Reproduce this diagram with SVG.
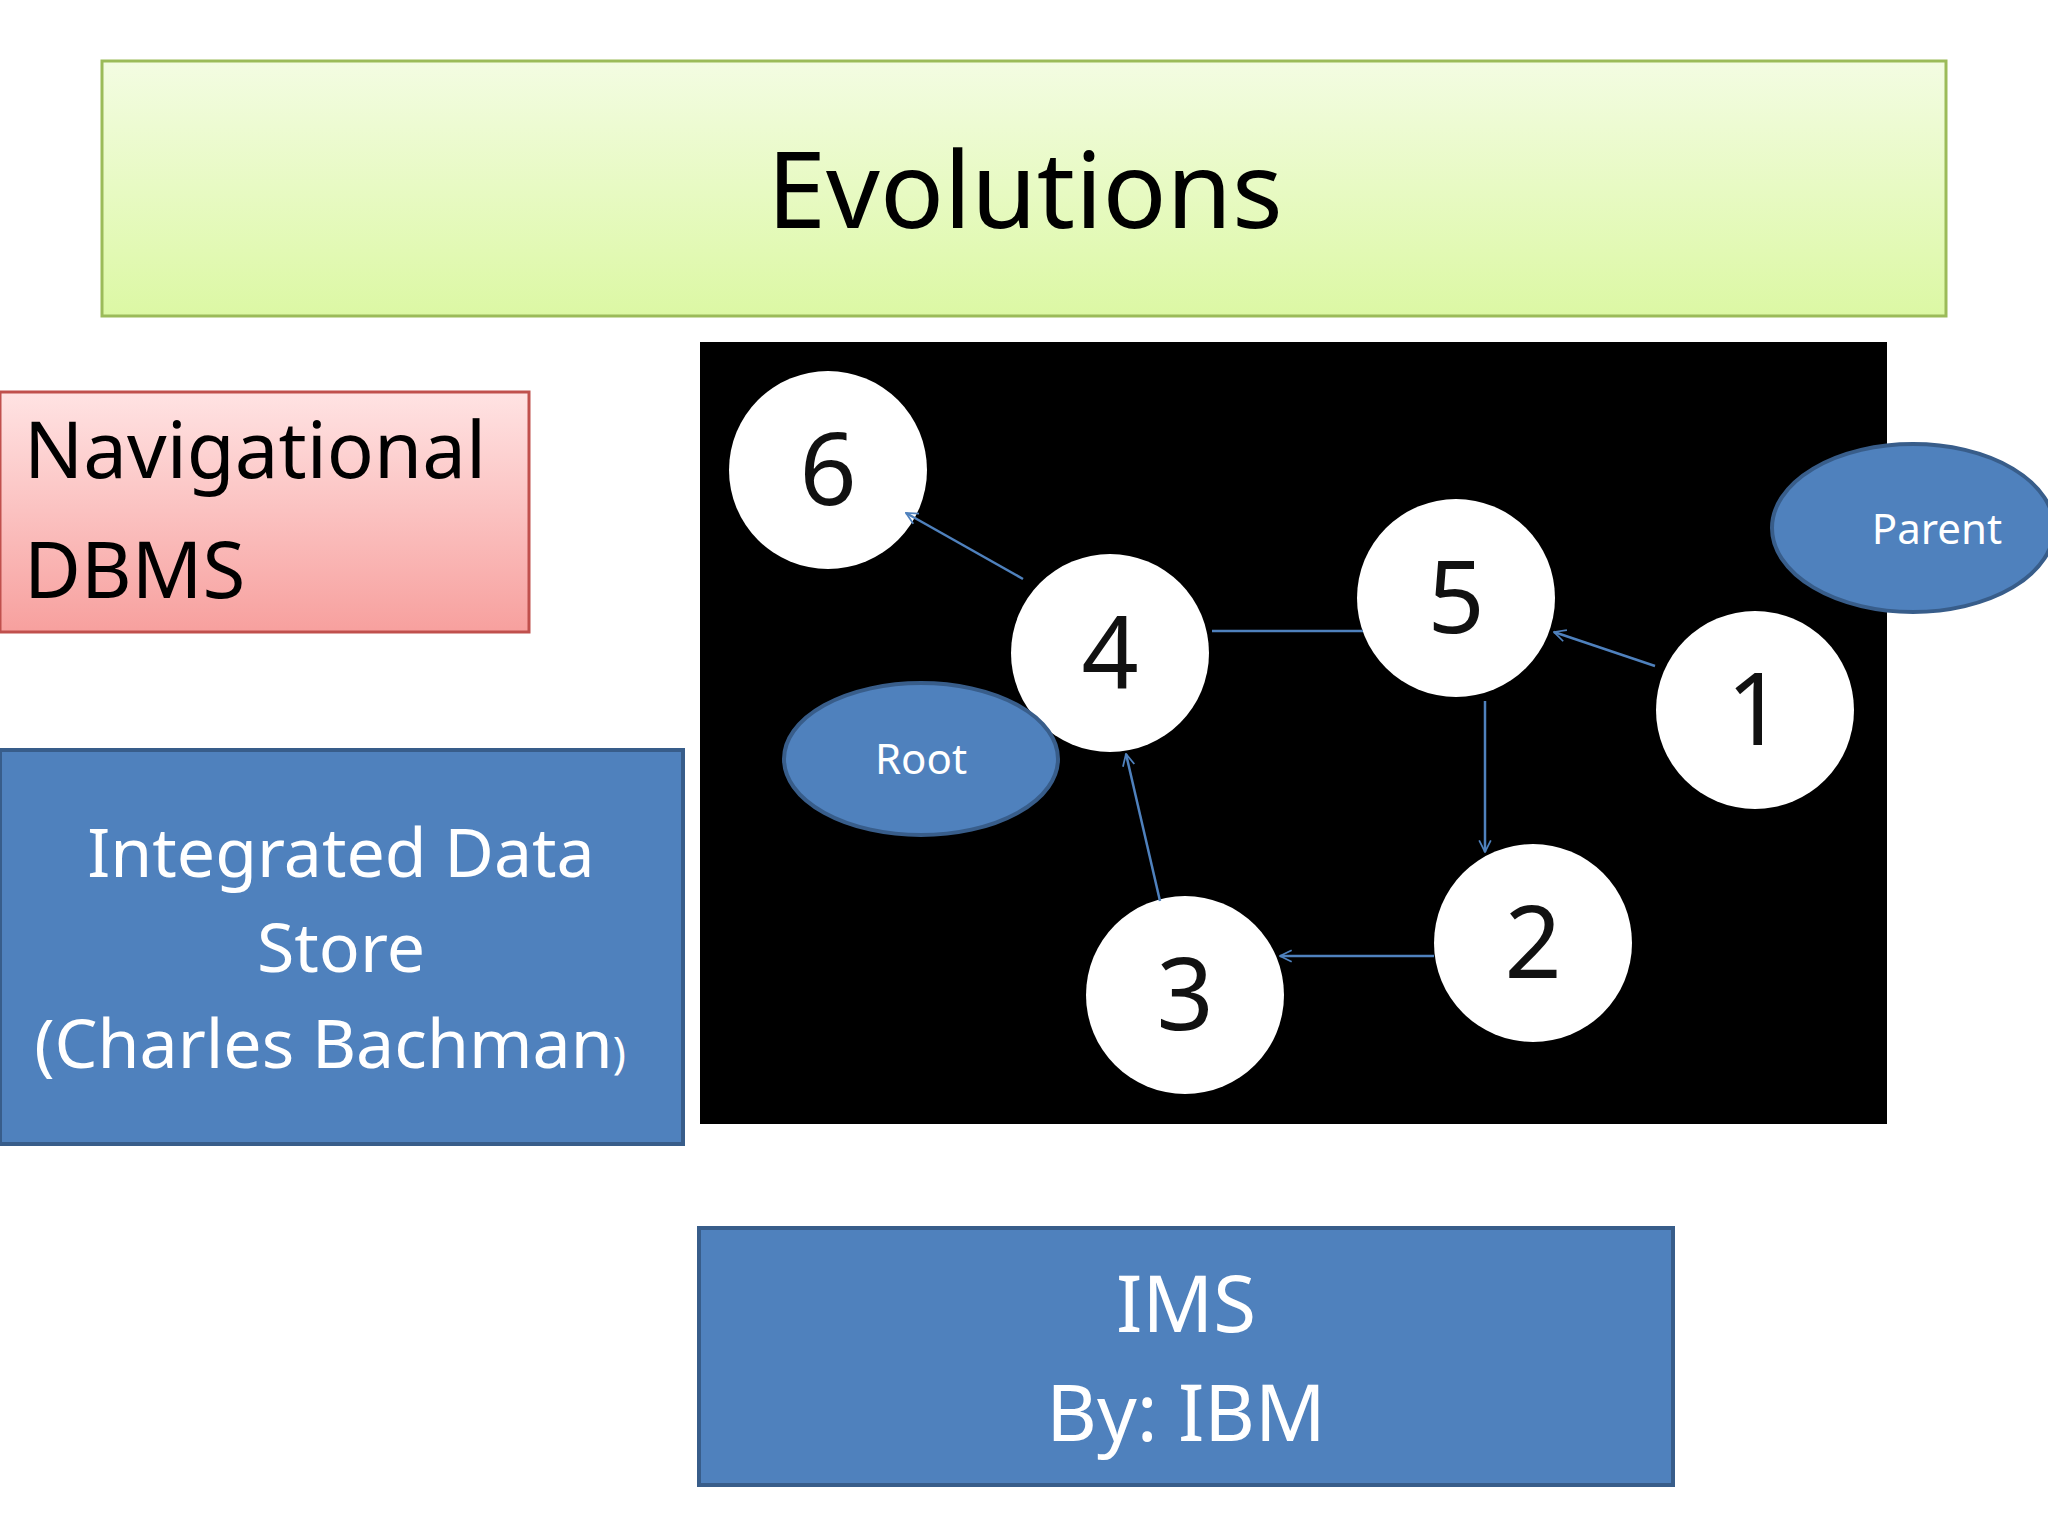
<svg xmlns="http://www.w3.org/2000/svg" width="2048" height="1536" viewBox="0 0 2048 1536">
<defs>
<linearGradient id="g" x1="0" y1="0" x2="0" y2="1"><stop offset="0" stop-color="#F3FCE2"/><stop offset="1" stop-color="#DCF8A4"/></linearGradient>
<linearGradient id="r" x1="0" y1="0" x2="0" y2="1"><stop offset="0" stop-color="#FFE3E3"/><stop offset="1" stop-color="#F7A09E"/></linearGradient>
<marker id="a" viewBox="0 0 12 12" refX="11" refY="6" markerWidth="14" markerHeight="14" markerUnits="userSpaceOnUse" orient="auto"><path d="M1 1 L11 6 L1 11" fill="none" stroke="#4F81BD" stroke-width="1.5"/></marker>
</defs>
<style>
text{font-family:"Noto Sans","Open Sans",sans-serif}
.blue{fill:#4F81BD;stroke:#385D8A;stroke-width:4}
.w{fill:#fff}
.num{font-size:100px;fill:#111;text-anchor:middle}
.c{stroke:#4F81BD;stroke-width:2.5;fill:none}
.lt{fill:#fff;text-anchor:middle}
</style>
<rect width="2048" height="1536" fill="#fff"/>
<g id="title"><rect x="102" y="61" width="1844" height="255" fill="url(#g)" stroke="#9BBB59" stroke-width="3"/><text x="1025" y="228" font-size="106" text-anchor="middle" fill="#000">Evolutions</text></g>
<g id="nav"><rect x="0" y="392" width="529" height="240" fill="url(#r)" stroke="#C0504D" stroke-width="3"/><text x="24" y="478" font-size="78">Navigational</text><text x="24" y="598" font-size="78">DBMS</text></g>
<g id="ids"><rect x="0" y="750" width="683" height="394" class="blue"/><text class="lt" x="341" y="877" font-size="68">Integrated Data</text><text class="lt" x="341" y="972" font-size="68">Store</text><text class="lt" x="330" y="1068" font-size="68">(Charles Bachman<tspan font-size="44">)</tspan></text></g>
<g id="graph">
<rect x="700" y="342" width="1187" height="782" fill="#000"/>
<g id="n6"><circle cx="828" cy="470" r="99" class="w"/><text class="num" x="828" y="505">6</text></g>
<g id="n4"><circle cx="1110" cy="653" r="99" class="w"/><text class="num" x="1110" y="688">4</text></g>
<g id="n5"><circle cx="1456" cy="598" r="99" class="w"/><text class="num" x="1456" y="633">5</text></g>
<g id="n1"><circle cx="1755" cy="710" r="99" class="w"/><text class="num" x="1755" y="745">1</text></g>
<g id="n2"><circle cx="1533" cy="943" r="99" class="w"/><text class="num" x="1533" y="978">2</text></g>
<g id="n3"><circle cx="1185" cy="995" r="99" class="w"/><text class="num" x="1185" y="1030">3</text></g>
</g>
<g id="connectors">
<line class="c" x1="1023" y1="579" x2="906" y2="513" marker-end="url(#a)"/>
<line class="c" x1="1212" y1="631" x2="1363" y2="631"/>
<line class="c" x1="1655" y1="666" x2="1554" y2="632" marker-end="url(#a)"/>
<line class="c" x1="1485" y1="701" x2="1485" y2="852" marker-end="url(#a)"/>
<line class="c" x1="1434" y1="956" x2="1280" y2="956" marker-end="url(#a)"/>
<line class="c" x1="1160" y1="901" x2="1126" y2="754" marker-end="url(#a)"/>
</g>
<g id="root"><ellipse cx="921" cy="759" rx="137" ry="76" class="blue"/><text class="lt" x="921" y="774" font-size="42">Root</text></g>
<g id="parent"><ellipse cx="1913" cy="528" rx="141" ry="84" class="blue"/><text class="lt" x="1937" y="544" font-size="42">Parent</text></g>
<g id="ims"><rect x="699" y="1228" width="974" height="257" class="blue"/><text class="lt" x="1186" y="1332" font-size="78">IMS</text><text class="lt" x="1186" y="1441" font-size="78">By: IBM</text></g>
</svg>
